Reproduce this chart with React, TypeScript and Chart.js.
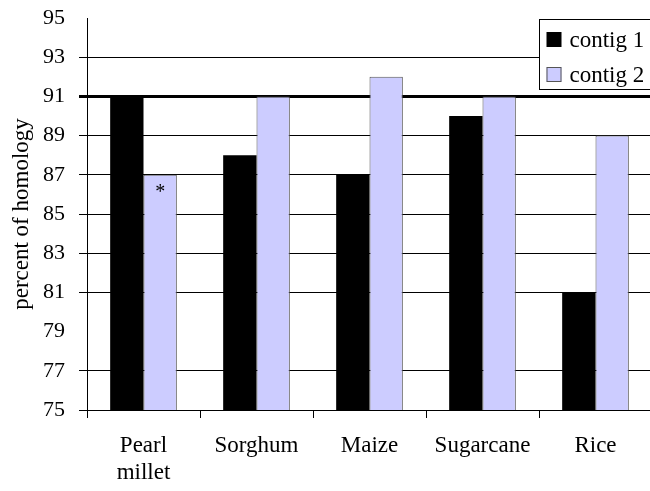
import React, { useEffect, useRef } from "react";
import { Chart, registerables } from "chart.js";

Chart.register(...registerables);

const categories: (string | string[])[] = [["Pearl", "millet"], "Sorghum", "Maize", "Sugarcane", "Rice"];
const contig1 = [91, 88, 87, 90, 81];
const contig2 = [87, 91, 92, 91, 89];
const contig2Marks = ["*", "", "", "", ""];
const seriesNames = ["contig 1", "contig 2"];
const yMin = 75;
const yMax = 95;
const yStep = 2;
const hiddenGridValues = [79, 95];
const boldGridValue = 91;

const FONT = "'Liberation Serif', 'Times New Roman', serif";

const legendPlugin = {
  id: "boxLegend",
  afterDraw(chart: any) {
    const { ctx, chartArea } = chart;
    const x0 = Math.round(chartArea.right - 113) + 0.5;
    const y0 = Math.round(chartArea.top + 1) + 0.5;
    ctx.save();
    ctx.fillStyle = "#ffffff";
    ctx.strokeStyle = "#000000";
    ctx.lineWidth = 1;
    ctx.fillRect(x0, y0, 130, 70);
    ctx.strokeRect(x0, y0, 130, 70);
    ctx.font = `23px ${FONT}`;
    ctx.textBaseline = "middle";
    ctx.textAlign = "left";
    chart.data.datasets.forEach((ds: any, i: number) => {
      const cy = y0 + 20.5 + i * 35;
      ctx.fillStyle = ds.backgroundColor;
      ctx.fillRect(x0 + 7, cy - 8, 15, 15);
      if (i === 1) {
        ctx.strokeStyle = "#555555";
        ctx.strokeRect(x0 + 7.5, cy - 7.5, 14, 14);
      }
      ctx.fillStyle = "#000000";
      ctx.fillText(ds.label, x0 + 30, cy + 1);
    });
    ctx.restore();
  },
};

const markPlugin = {
  id: "barMarks",
  afterDatasetsDraw(chart: any) {
    const { ctx } = chart;
    const meta = chart.getDatasetMeta(1);
    ctx.save();
    ctx.font = `20px ${FONT}`;
    ctx.fillStyle = "#000000";
    ctx.textAlign = "center";
    ctx.textBaseline = "alphabetic";
    meta.data.forEach((el: any, i: number) => {
      const m = contig2Marks[i];
      if (m) ctx.fillText(m, el.x, el.y + 23);
    });
    ctx.restore();
  },
};

export default function App() {
  const ref = useRef<HTMLCanvasElement | null>(null);

  useEffect(() => {
    if (!ref.current) return;
    const chart = new Chart(ref.current, {
      type: "bar",
      data: {
        labels: categories,
        datasets: [
          {
            label: seriesNames[0],
            data: contig1,
            backgroundColor: "#000000",
            borderWidth: 0,
            categoryPercentage: 0.59,
            barPercentage: 1.0,
          },
          {
            label: seriesNames[1],
            data: contig2,
            backgroundColor: "#ccccff",
            borderColor: "#555555",
            borderWidth: 1,
            categoryPercentage: 0.59,
            barPercentage: 1.0,
          },
        ],
      },
      options: {
        responsive: false,
        animation: false,
        devicePixelRatio: 1,
        layout: { padding: { top: 18, left: 0, right: 0, bottom: 0 } },
        plugins: {
          legend: { display: false },
          tooltip: { enabled: false },
        },
        scales: {
          x: {
            grid: {
              offset: true,
              drawOnChartArea: false,
              drawTicks: true,
              tickLength: 8,
              color: "#000000",
            },
            border: { display: true, color: "#000000", width: 1 },
            ticks: {
              color: "#000000",
              font: { family: FONT, size: 23 },
              padding: 14,
              maxRotation: 0,
              autoSkip: false,
            },
            afterFit(scale: any) {
              scale.height = 81;
              scale.paddingLeft = 0;
              scale.paddingRight = 0;
            },
          },
          y: {
            min: yMin,
            max: yMax,
            ticks: {
              stepSize: yStep,
              color: "#000000",
              font: { family: FONT, size: 22 },
              padding: 14,
            },
            grid: {
              tickLength: 8,
              color: (c: any) =>
                c.tick && hiddenGridValues.includes(c.tick.value) ? "rgba(0,0,0,0)" : "#000000",
              lineWidth: (c: any) => (c.tick && c.tick.value === boldGridValue ? 3 : 1),
            },
            border: { display: true, color: "#000000", width: 1 },
            title: {
              display: true,
              text: "percent of homology",
              color: "#000000",
              font: { family: FONT, size: 23 },
              padding: { top: 8, bottom: 0 },
            },
            afterFit(scale: any) {
              scale.width = 87;
              scale.paddingTop = 0;
              scale.paddingBottom = 0;
            },
          },
        },
      },
      plugins: [markPlugin, legendPlugin],
    });
    return () => chart.destroy();
  }, []);

  return (
    <div
      style={{
        position: "fixed",
        left: 0,
        top: 0,
        width: 650,
        height: 491,
        overflow: "hidden",
        background: "#ffffff",
      }}
    >
      <canvas ref={ref} width={652} height={491} style={{ display: "block" }} />
    </div>
  );
}
